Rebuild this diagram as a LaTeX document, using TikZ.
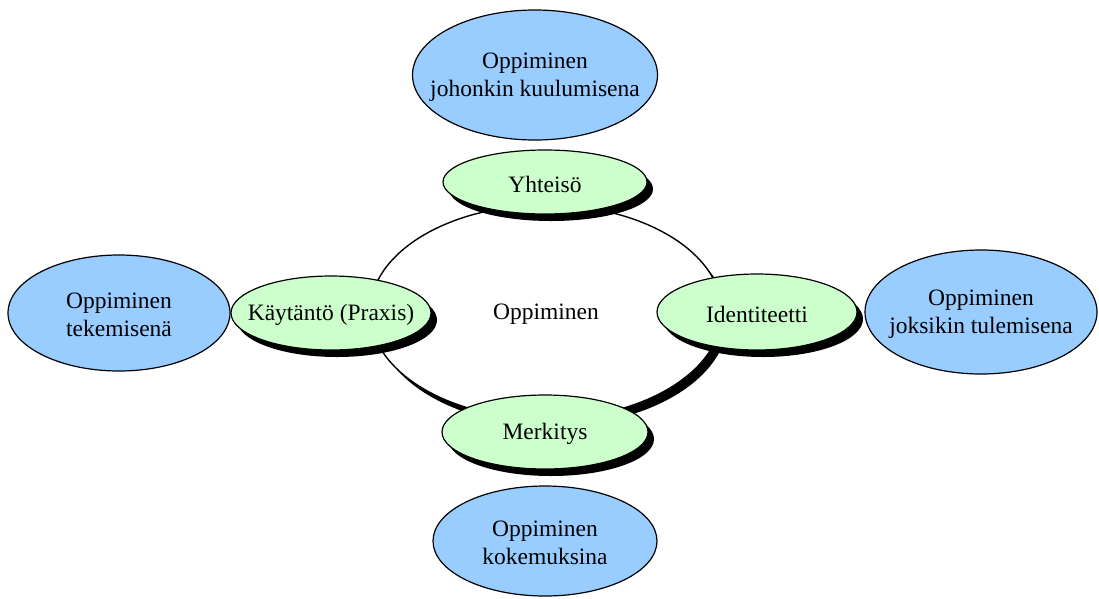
\documentclass[tikz,border=0pt]{standalone}
\usepackage{fontspec}
\setmainfont{Liberation Serif}
\usetikzlibrary{shapes.geometric,shadows}
\definecolor{skyfill}{HTML}{99CCFF}
\definecolor{mintfill}{HTML}{CCFFCC}
\begin{document}
\begin{tikzpicture}[x=1pt,y=-1pt,
  oval/.style={ellipse,draw=black,line width=1.2pt,inner sep=0pt},
  outerbox/.style={oval,fill=skyfill},
  innerbox/.style={oval,fill=mintfill,
    drop shadow={shadow xshift=6pt,shadow yshift=-7pt,fill=black,opacity=1}},
  corebox/.style={oval,fill=white,line width=1.4pt,
    drop shadow={shadow xshift=6pt,shadow yshift=-7pt,fill=black,opacity=1}},
  caption/.style={align=center,inner sep=0pt,yshift=-2pt,
    font=\fontsize{23.5}{28}\selectfont}]
\useasboundingbox (0,0) rectangle (1099,598);

% central learning ellipse
\node[corebox,minimum width=352pt,minimum height=214pt] (core) at (546,312) {};
\node[caption] (coretext) at (core) {Oppiminen};

% four components of learning
\node[innerbox,minimum width=204pt,minimum height=64pt] (yht) at (545,182) {};
\node[caption] (yhttext) at (yht) {Yhteisö};
\node[innerbox,minimum width=200pt,minimum height=74pt] (kay) at (331,313) {};
\node[caption] (kaytext) at (kay) {Käytäntö (Praxis)};
\node[innerbox,minimum width=200pt,minimum height=76pt] (ide) at (757,312) {};
\node[caption] (idetext) at (ide) {Identiteetti};
\node[innerbox,minimum width=206pt,minimum height=74pt] (mer) at (545,432) {};
\node[caption] (mertext) at (mer) {Merkitys};

% outer perspectives
\node[outerbox,minimum width=245pt,minimum height=130pt] (top) at (535,75) {};
\node[caption] (toptext) at (top) {Oppiminen\\johonkin kuulumisena};
\node[outerbox,minimum width=222pt,minimum height=116pt] (lft) at (119,313) {};
\node[caption] (lfttext) at (lft) {Oppiminen\\tekemisenä};
\node[outerbox,minimum width=232pt,minimum height=124pt] (rgt) at (981,312) {};
\node[caption] (rgttext) at (rgt) {Oppiminen\\joksikin tulemisena};
\node[outerbox,minimum width=224pt,minimum height=110pt] (bot) at (545,541) {};
\node[caption] (bottext) at (bot) {Oppiminen\\kokemuksina};
\end{tikzpicture}
\end{document}
